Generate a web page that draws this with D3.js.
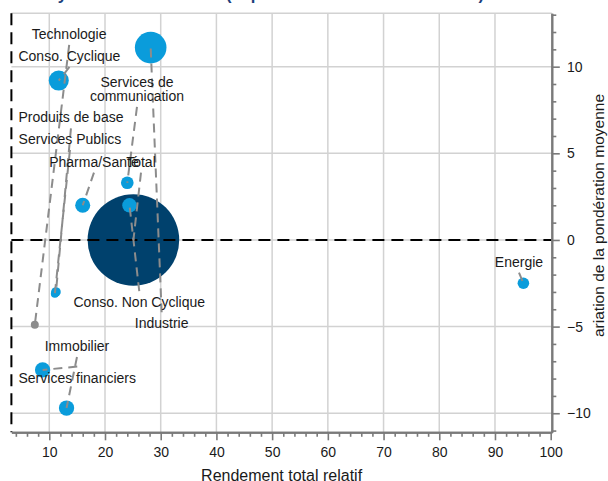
<!DOCTYPE html>
<html><head><meta charset="utf-8">
<script src="https://cdn.jsdelivr.net/npm/d3@7"></script>
<style>
body{margin:0;background:#fff}
svg{display:block}
text{font-family:"Liberation Sans",Arial,Helvetica,sans-serif}
</style>
</head><body>
<svg id="c" width="608" height="481"></svg>
<script>
// ---- data ----
const secteurs = ["Technologie","Conso. Cyclique","Services de communication","Produits de base","Services Publics","Pharma/Santé","Total","Energie","Conso. Non Cyclique","Industrie","Immobilier","Services financiers"];
const rendement = [7.4, 11.7, 24.0, 11.2, 11.0, 16.0, 25.1, 95.1, 24.4, 28.2, 13.1, 8.8];
const variation = [-4.9, 9.2, 3.3, -3.0, -3.1, 2.0, 0.0, -2.5, 2.0, 11.1, -9.7, -7.5];
const taille = [0.76, 4.8, 1.9, 1.1, 0.76, 2.7, 100, 1.6, 2.5, 11.9, 2.8, 2.8];
const xTicks = [10,20,30,40,50,60,70,80,90,100];
const yTicks = [-10,-5,0,5,10];
// label anchors (data units) – annotation layout
const labelX = [13.57, 13.62, 25.74, 13.89, 13.71, 18.02, 26.46, 94.31, 26.15, 30.17, 14.97, 15.02];
const labelY = [11.6, 10.33, 8.83, 6.79, 5.54, 4.23, 4.23, -1.54, -3.88, -5.10, -6.41, -8.23];
const titre = ["Analyse sectorielle", "(depuis le début de l'année 2023)"];
const titreX = "Rendement total relatif";
const titreY = "ariation de la pondération moyenne";

// ---- layout ----
const svg = d3.select("#c");
const x = d3.scaleLinear().domain([3.2, 100.2]).range([11.4, 551.8]);
const y = d3.scaleLinear().domain([-11.1, 13.08]).range([432.3, 13.3]);
const r = d3.scaleSqrt().domain([0, 100]).range([0, 45.8]);
const [x0, x1] = x.range();
const [y0, y1] = y.range();
const gridC = "#d2d2d2", axisC = "#7a7a7a";
const couleur = n => n === "Total" ? "#00416d" : (n === "Technologie" ? "#8c8c8c" : "#0a9cdb");
const wrap = n => n === "Services de communication" ? ["Services de", "communication"] : [n];

// title (mostly out of frame)
const t = svg.append("text").attr("y", -0.5).attr("font-size", 16.5).attr("font-weight", "bold").attr("fill", "#1c3f7c");
t.append("tspan").attr("x", 22).text(titre[0]);
t.append("tspan").attr("x", 226).text(titre[1]);

// grid
const grid = svg.append("g");
grid.selectAll("line.v").data(xTicks.filter(v => v < 100)).join("line")
  .attr("x1", d => x(d)).attr("x2", d => x(d)).attr("y1", y1).attr("y2", y0)
  .attr("stroke", gridC).attr("stroke-width", 1.5);
grid.selectAll("line.h").data(yTicks.concat([y.domain()[1]])).join("line")
  .attr("x1", x0).attr("x2", x1).attr("y1", d => y(d)).attr("y2", d => y(d))
  .attr("stroke", gridC).attr("stroke-width", 1.5);

// bubbles
const idx = d3.range(secteurs.length).sort((a, b) => taille[b] - taille[a]);
svg.append("g").selectAll("circle").data(idx).join("circle")
  .attr("cx", i => x(rendement[i])).attr("cy", i => y(variation[i]))
  .attr("r", i => r(taille[i])).attr("fill", i => couleur(secteurs[i]));

// reference dashed lines
svg.append("line").attr("x1", x0).attr("x2", x1).attr("y1", y(0)).attr("y2", y(0))
  .attr("stroke", "#000").attr("stroke-width", 2).attr("stroke-dasharray", "12,7");
svg.append("line").attr("x1", x0).attr("x2", x0).attr("y1", y1).attr("y2", y0)
  .attr("stroke", "#000").attr("stroke-width", 2).attr("stroke-dasharray", "12,7");

// leader lines
const LH = 14;
const leaders = svg.append("g");
d3.range(secteurs.length).forEach(i => {
  const lx = x(labelX[i]), ly = y(labelY[i]);
  const n = wrap(secteurs[i]).length;
  const last = ly + (n - 1) * LH;
  const py = y(variation[i]), px = x(rendement[i]);
  const sy = py > last ? last + 6 : ly - 16;
  leaders.append("line").attr("x1", lx).attr("y1", sy).attr("x2", px).attr("y2", py)
    .attr("stroke", "#8c8c8c").attr("stroke-width", 2).attr("stroke-dasharray", "9,6");
});

// labels
const labs = svg.append("g").attr("font-size", 14).attr("fill", "#1a1a1a").attr("text-anchor", "middle");
d3.range(secteurs.length).forEach(i => {
  const tx = labs.append("text").attr("x", x(labelX[i])).attr("y", y(labelY[i]));
  wrap(secteurs[i]).forEach((s, k) => tx.append("tspan").attr("x", x(labelX[i])).attr("dy", k ? LH : 0).text(s));
});

// x axis
const minorX = d3.range(4, 101, 2).filter(v => v % 10 !== 0);
const gx = svg.append("g").attr("transform", `translate(0,${y0})`);
gx.call(d3.axisBottom(x).tickValues(minorX).tickSize(4.5).tickSizeOuter(0).tickFormat(""));
gx.call(g => g.selectAll(".tick").attr("class", "minor"));
const gx2 = svg.append("g").attr("transform", `translate(0,${y0})`)
  .call(d3.axisBottom(x).tickValues(xTicks).tickSize(8).tickSizeOuter(0).tickPadding(6.5).tickFormat(d3.format("d")));
[gx, gx2].forEach(g => {
  g.selectAll("path").attr("stroke", axisC).attr("stroke-width", 2);
  g.selectAll("line").attr("stroke", axisC).attr("stroke-width", 1.6);
  g.selectAll("text").attr("font-size", 14).attr("fill", "#1a1a1a").attr("font-family", "Liberation Sans, Arial, sans-serif");
});

// y axis (right)
const minorY = d3.range(-11, 14, 1).filter(v => v % 5 !== 0);
const gy = svg.append("g").attr("transform", `translate(${x1},0)`)
  .call(d3.axisRight(y).tickValues(minorY).tickSize(4.5).tickSizeOuter(0).tickFormat(""));
const gy2 = svg.append("g").attr("transform", `translate(${x1},0)`)
  .call(d3.axisRight(y).tickValues(yTicks).tickSize(8).tickSizeOuter(0).tickPadding(7.2).tickFormat(d3.format("d")));
[gy, gy2].forEach(g => {
  g.selectAll("path").attr("stroke", axisC).attr("stroke-width", 2);
  g.selectAll("line").attr("stroke", axisC).attr("stroke-width", 1.6);
  g.selectAll("text").attr("font-size", 14).attr("fill", "#1a1a1a").attr("font-family", "Liberation Sans, Arial, sans-serif");
});

// axis titles
svg.append("text").attr("x", (x0 + x1) / 2).attr("y", 481).attr("text-anchor", "middle")
  .attr("font-size", 16).attr("fill", "#1a1a1a").text(titreX);
svg.append("text").attr("transform", "translate(604.3,337) rotate(-90)").attr("text-anchor", "start")
  .attr("font-size", 15.5).attr("fill", "#1a1a1a").text(titreY);
</script>
</body></html>
